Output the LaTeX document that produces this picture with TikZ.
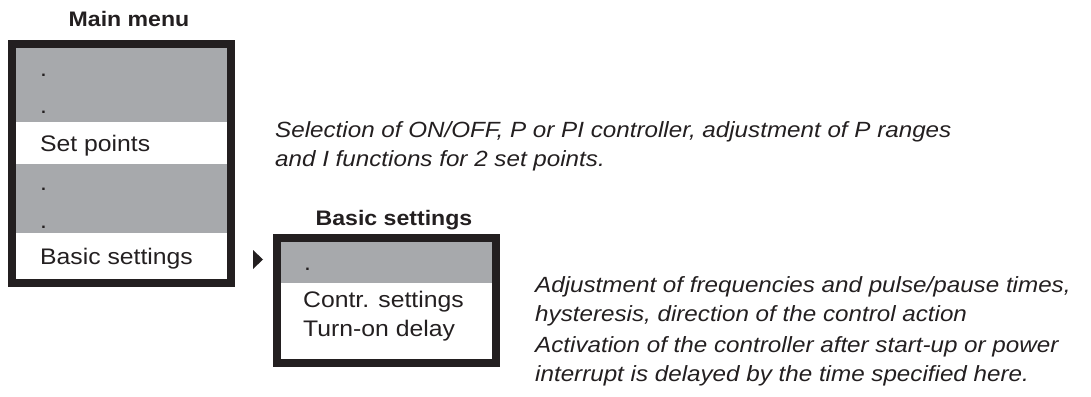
\documentclass[tikz,border=0pt]{standalone}
\usepackage{fontspec}
\setmainfont{Liberation Sans}
\newfontfamily\widefont[FakeStretch=1.1]{Liberation Sans}
\definecolor{menugray}{HTML}{A7A9AC}
\definecolor{ink}{HTML}{231F20}
\tikzset{
  frame/.style={draw=ink, line width=8pt},
  grayrow/.style={fill=menugray},
  item/.style={anchor=base west, inner sep=0pt, text=ink, font=\widefont\fontsize{22.5}{27}\selectfont},
  menutitle/.style={anchor=base, inner sep=0pt, text=ink, font=\widefont\fontsize{21}{26}\selectfont\bfseries},
  desc/.style={anchor=base west, inner sep=0pt, text=ink, align=left, font=\widefont\fontsize{22}{28.8}\selectfont\itshape},
  marker/.style={fill=ink}
}
\begin{document}
\begin{tikzpicture}[x=1pt,y=-1pt]
\useasboundingbox (0,0) rectangle (1091,396);
% Main menu
\node[menutitle] (tmain) at (129,27) {Main menu};
\fill[grayrow] (16,48) rectangle (227,122);
\fill[grayrow] (16,164) rectangle (227,233);
\draw[frame] (12,44) rectangle (231,283);
\node[item] (m1) at (40,76) {.};
\node[item] (m2) at (40,113) {.};
\node[item] (m3) at (40,151) {Set points};
\node[item] (m4) at (40,190) {.};
\node[item] (m5) at (40,228) {.};
\node[item] (m6) at (40,264) {Basic settings};
% description 1 (base = last line)
\node[desc] (d1) at (275,166) {Selection of ON/OFF, P or PI controller, adjustment of P ranges\\and I functions for 2 set points.};
% marker
\fill[marker] (253,250) -- (263,259.5) -- (253,269) -- cycle;
% Basic settings
\node[menutitle] (tbasic) at (394,225) {Basic settings};
\fill[grayrow] (281,242) rectangle (492,283);
\draw[frame] (277,238) rectangle (496,363);
\node[item] (b1) at (304,270) {.};
\node[item] (b2) at (303,307) {Contr. settings};
\node[item] (b3) at (303,336) {Turn-on delay};
% descriptions 2 and 3 (base = last line)
\node[desc] (d2) at (535,321) {Adjustment of frequencies and pulse/pause times,\\hysteresis, direction of the control action};
\node[desc] (d3) at (535,381) {Activation of the controller after start-up or power\\interrupt is delayed by the time specified here.};
\end{tikzpicture}
\end{document}
